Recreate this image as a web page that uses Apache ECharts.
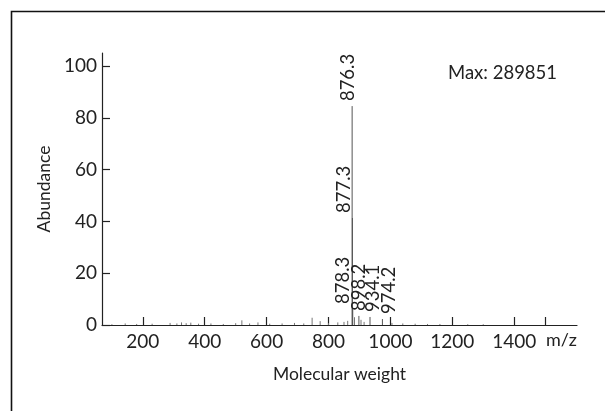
<!DOCTYPE html>
<html>
<head>
<meta charset="utf-8">
<script src="https://cdn.jsdelivr.net/npm/echarts@6/dist/echarts.min.js"></script>
<style>html,body{margin:0;padding:0;background:#fff}#c{width:605px;height:411px}</style>
</head>
<body>
<div id="c"></div>
<script>
// ---- data ----
const noiseMz = [100,143,180,230,288,310,325,340,355,380,420,460,500,520,545,572,610,650,690,720,747,773,800,830,850,862,884,905,915,1005,1040,1080,1120,1160,1250,1300];
const noiseAbund = [0.3,0.6,0.4,0.5,0.8,0.6,1.0,0.7,0.9,0.5,0.6,0.4,0.7,1.8,0.6,1.0,0.5,0.6,0.8,0.6,2.8,1.5,0.7,1.0,1.2,1.6,3.0,2.0,1.2,0.8,0.6,0.5,0.4,0.4,0.3,0.3];
const peakMz = [876.3, 877.3, 878.3, 898.2, 934.1, 974.2];
const peakAbund = [84.5, 41.3, 6.2, 3.5, 3.1, 2.3];
const peakLabels = ['876.3', '877.3', '878.3', '898.2', '934.1', '974.2'];
const xTickValues = [200, 400, 600, 800, 1000, 1200, 1400, 1500];
const xLabelValues = [200, 400, 600, 800, 1000, 1200, 1400];
const yTickValues = [0, 20, 40, 60, 80, 100];
const maxText = 'Max: 289851';

// ---- label layout (pixel shifts to avoid overlap) ----
const labelShift = [-4, -8, -9.5, 0, 3, 7];

const FONT = 'Lato, "Open Sans", sans-serif';
const TXT = '#222';

const chart = echarts.init(document.getElementById('c'), null, {renderer: 'canvas'});

function lineItem(params, api, color) {
  const x = api.value(0), y = api.value(1);
  const p0 = api.coord([x, 0]);
  const p1 = api.coord([x, y]);
  return {type: 'line', shape: {x1: p0[0], y1: p0[1], x2: p1[0], y2: p1[1]},
          style: {stroke: color, lineWidth: 1}};
}

chart.setOption({
  animation: false,
  backgroundColor: '#fff',
  grid: {left: 102, right: 28, top: 53, bottom: 86},
  xAxis: {
    type: 'value', min: 68, max: 1603,
    name: 'Molecular weight', nameLocation: 'middle', nameGap: 40,
    nameTextStyle: {fontFamily: FONT, fontSize: 17.5, color: TXT},
    axisLine: {show: true, onZero: false, lineStyle: {color: TXT, width: 1.2}},
    axisTick: {show: true, inside: true, length: 8, customValues: xTickValues, lineStyle: {color: TXT, width: 1.2}},
    axisLabel: {customValues: xLabelValues, margin: 7, fontFamily: FONT, fontSize: 19, color: TXT,
                formatter: v => String(v)},
    splitLine: {show: false}
  },
  yAxis: {
    type: 'value', min: 0, max: 105,
    name: 'Abundance', nameLocation: 'middle', nameGap: 48,
    nameTextStyle: {fontFamily: FONT, fontSize: 17.5, color: TXT},
    axisLine: {show: true, lineStyle: {color: TXT, width: 1.2}},
    axisTick: {show: true, inside: true, length: 8, customValues: yTickValues, lineStyle: {color: TXT, width: 1.2}},
    axisLabel: {customValues: yTickValues, margin: 5, fontFamily: FONT, fontSize: 19, color: TXT,
                formatter: v => String(v)},
    splitLine: {show: false}
  },
  graphic: [
    {type: 'polyline', shape: {points: [[11.5, 411], [11.5, 11.5], [605, 11.5]]},
     style: {stroke: '#111', lineWidth: 1.6, fill: null}},
    {type: 'text', left: 546, top: 331,
     style: {text: 'm/z', fontFamily: FONT, fontSize: 18, fill: TXT}},
    {type: 'text', left: 448, top: 64,
     style: {text: maxText, fontFamily: FONT, fontSize: 18.5, fill: TXT}}
  ],
  series: [
    {
      type: 'custom', name: 'noise',
      data: noiseMz.map((m, i) => [m, noiseAbund[i]]),
      encode: {x: 0, y: 1},
      renderItem: (params, api) => lineItem(params, api, '#777')
    },
    {
      type: 'custom', name: 'peaks',
      data: peakMz.map((m, i) => [m, peakAbund[i], i]),
      encode: {x: 0, y: 1},
      z: 3,
      renderItem: (params, api) => {
        const i = api.value(2);
        const x = api.value(0), y = api.value(1);
        const p1 = api.coord([x, y]);
        return {
          type: 'group',
          children: [
            lineItem(params, api, '#555'),
            {type: 'text', x: p1[0] + labelShift[i], y: p1[1] - 5, rotation: Math.PI / 2,
             z2: 10,
             style: {text: peakLabels[i], fontFamily: FONT, fontSize: 18.5, fill: TXT,
                     align: 'left', verticalAlign: 'middle'}}
          ]
        };
      }
    }
  ]
});
</script>
</body>
</html>
